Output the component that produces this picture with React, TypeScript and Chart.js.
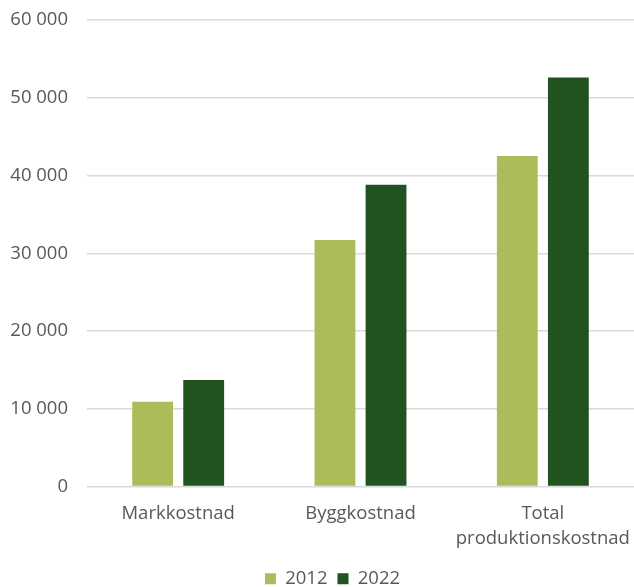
import React, { useEffect, useRef } from "react";
import { Chart, registerables } from "chart.js";

Chart.register(...registerables);

const categories: (string | string[])[] = ["Markkostnad", "Byggkostnad", ["Total", "produktionskostnad"]];
const values2012 = [10900, 31700, 42500];
const values2022 = [13700, 38800, 52600];
const seriesLabels = ["2012", "2022"];

const FONT = "'Open Sans', sans-serif";

const shiftLegend = {
  id: "shiftLegend",
  afterLayout(chart: any) {
    if (chart.legend) chart.legend.left += 31;
  },
};

export default function App() {
  const ref = useRef<HTMLCanvasElement | null>(null);
  useEffect(() => {
    if (!ref.current) return;
    const chart = new Chart(ref.current, {
      type: "bar",
      data: {
        labels: categories,
        datasets: [
          {
            label: seriesLabels[0],
            data: values2012,
            backgroundColor: "#abbd5a",
            borderColor: "rgba(255,255,255,0.5)",
            borderWidth: 0,
          },
          {
            label: seriesLabels[1],
            data: values2022,
            backgroundColor: "#20531d",
            borderColor: "rgba(255,255,255,0.5)",
            borderWidth: 0,
          },
        ],
      },
      plugins: [shiftLegend],
      options: {
        responsive: false,
        animation: false,
        devicePixelRatio: 1,
        layout: { padding: { left: 0, right: 0, top: 20, bottom: -11 } },
        datasets: { bar: { categoryPercentage: 0.56, barPercentage: 0.8 } },
        plugins: {
          legend: {
            position: "bottom",
            labels: {
              boxWidth: 11,
              boxHeight: 11,
              padding: 10,
              color: "#595959",
              font: { family: FONT, size: 18.5 },
            },
          },
          tooltip: { enabled: false },
        },
        scales: {
          x: {
            afterFit: (axis: any) => {
              axis.height = 73;
              axis.paddingLeft = 0;
              axis.paddingRight = 0;
            },
            grid: { display: false, drawTicks: false },
            border: { display: false },
            ticks: {
              color: "#595959",
              font: { family: FONT, size: 18.5, lineHeight: 1.38 },
              padding: 14,
              maxRotation: 0,
              autoSkip: false,
            },
          },
          y: {
            min: 0,
            max: 60000,
            afterFit: (axis: any) => {
              axis.width = 87;
              axis.paddingTop = 0;
              axis.paddingBottom = 0;
            },
            ticks: {
              stepSize: 10000,
              color: "#595959",
              font: { family: FONT, size: 18.5 },
              padding: 19,
              callback: (v: any) => Number(v).toLocaleString("en-US").replace(/,/g, " "),
            },
            grid: { color: "#d9d9d9", lineWidth: 1.5, drawTicks: false },
            border: { display: false },
          },
        },
      },
    });
    return () => chart.destroy();
  }, []);
  return (
    <div style={{ position: "absolute", left: 0, top: 0, width: 634, height: 587, background: "#fff" }}>
      <canvas ref={ref} width={634} height={587} />
    </div>
  );
}
